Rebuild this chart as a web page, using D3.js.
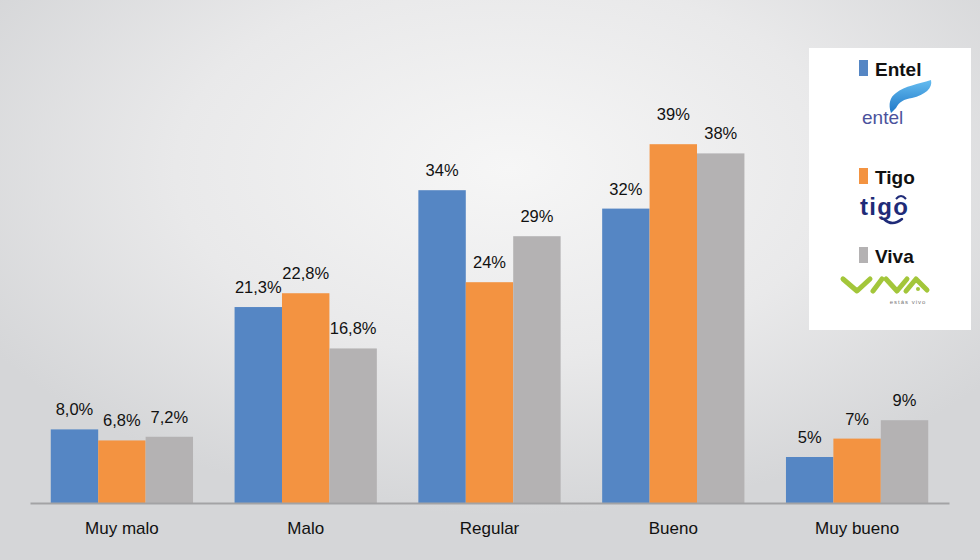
<!DOCTYPE html>
<html>
<head>
<meta charset="utf-8">
<script src="https://cdn.jsdelivr.net/npm/d3@7"></script>
<style>
  html, body { margin: 0; padding: 0; }
  body { width: 980px; height: 560px; overflow: hidden; }
  text { font-family: "Liberation Sans", Arial, sans-serif; }
</style>
</head>
<body>
<div id="canvas"></div>
<script>
"use strict"

/* chart data */
let categories = ["Muy malo", "Malo", "Regular", "Bueno", "Muy bueno"];
let series = ["Entel", "Tigo", "Viva"];
let entelValues = [8.0, 21.3, 34, 32, 5];
let tigoValues = [6.8, 22.8, 24, 39, 7];
let vivaValues = [7.2, 16.8, 29, 38, 9];
let entelLabels = ["8,0%", "21,3%", "34%", "32%", "5%"];
let tigoLabels = ["6,8%", "22,8%", "24%", "39%", "7%"];
let vivaLabels = ["7,2%", "16,8%", "29%", "38%", "9%"];
let seriesColors = ["#5586c4", "#f39341", "#b4b2b3"];

let svgWidth = 980;
let svgHeight = 560;

let svg = d3.select("#canvas")
    .append("svg")
    .attr("width", svgWidth)
    .attr("height", svgHeight);

/* soft grey background, lighter near the top middle */
let defs = svg.append("defs");
let bg = defs.append("radialGradient")
    .attr("id", "bg")
    .attr("cx", "52%").attr("cy", "30%").attr("r", "62%");
bg.append("stop").attr("offset", "0%").attr("stop-color", "#f6f6f6");
bg.append("stop").attr("offset", "55%").attr("stop-color", "#e9e9ea");
bg.append("stop").attr("offset", "100%").attr("stop-color", "#d5d6d8");

let swoosh = defs.append("linearGradient")
    .attr("id", "swoosh")
    .attr("x1", "0").attr("y1", "0").attr("x2", "0").attr("y2", "1");
swoosh.append("stop").attr("offset", "0%").attr("stop-color", "#66bdf0");
swoosh.append("stop").attr("offset", "100%").attr("stop-color", "#1f78c8");

svg.append("rect")
    .attr("width", svgWidth)
    .attr("height", svgHeight)
    .attr("fill", "url(#bg)");

/* scales */
let x0 = d3.scaleBand()
    .domain(categories)
    .range([30, 949])
    .paddingInner(0.226)
    .paddingOuter(0.113);

let x1 = d3.scaleBand()
    .domain(series)
    .range([0, x0.bandwidth()]);

let y = d3.scaleLinear()
    .domain([0, 40])
    .range([503, 135]);

let color = d3.scaleOrdinal().domain(series).range(seriesColors);

let valuesBySeries = [entelValues, tigoValues, vivaValues];
let labelsBySeries = [entelLabels, tigoLabels, vivaLabels];

let rows = [];
categories.forEach(function (c, i) {
    series.forEach(function (s, j) {
        rows.push({ cat: c, ser: s, value: valuesBySeries[j][i], label: labelsBySeries[j][i] });
    });
});

/* bars */
svg.append("g").selectAll("rect")
    .data(rows)
    .join("rect")
    .attr("x", d => x0(d.cat) + x1(d.ser))
    .attr("y", d => y(d.value))
    .attr("width", x1.bandwidth())
    .attr("height", d => y(0) - y(d.value))
    .attr("fill", d => color(d.ser));

/* value labels (the tallest one sits a bit higher in the original) */
svg.append("g").selectAll("text")
    .data(rows)
    .join("text")
    .attr("x", d => x0(d.cat) + x1(d.ser) + x1.bandwidth() / 2)
    .attr("y", d => y(d.value) - (d.value === d3.max(tigoValues) ? 24 : 14))
    .attr("text-anchor", "middle")
    .attr("font-size", "16.5px")
    .attr("fill", "#111")
    .text(d => d.label);

/* baseline + category labels */
let xAxis = svg.append("g")
    .attr("transform", "translate(0," + y(0) + ")")
    .call(d3.axisBottom(x0).tickSize(0).tickPadding(19));
xAxis.select(".domain")
    .attr("stroke", "#a3a3a5")
    .attr("stroke-width", 2);
xAxis.selectAll("text")
    .attr("font-family", "Liberation Sans, Arial, sans-serif")
    .attr("font-size", "17px")
    .attr("fill", "#111");

/* legend panel */
let legend = svg.append("g");
legend.append("rect")
    .attr("x", 809).attr("y", 48)
    .attr("width", 162).attr("height", 282)
    .attr("fill", "#ffffff");

let legendY = [60, 168, 247];
series.forEach(function (s, i) {
    legend.append("rect")
        .attr("x", 859).attr("y", legendY[i])
        .attr("width", 9).attr("height", 16)
        .attr("fill", color(s));
    legend.append("text")
        .attr("x", 875).attr("y", legendY[i] + 16)
        .attr("font-size", "19px")
        .attr("font-weight", "bold")
        .attr("fill", "#111")
        .text(s);
});

/* entel logo */
legend.append("path")
    .attr("d", "M891,113 C888,104 890,97 896,93 C905,86 918,84 931,80 C933,88 925,95 912,98 C904,99 899,102 896,108 Z")
    .attr("fill", "url(#swoosh)");
legend.append("text")
    .attr("x", 862).attr("y", 124)
    .attr("font-size", "19px")
    .attr("fill", "#4b529c")
    .text("entel");

/* tigo logo */
legend.append("text")
    .attr("x", 860).attr("y", 215)
    .attr("font-family", "Open Sans, sans-serif")
    .attr("font-size", "24px")
    .attr("font-weight", 700)
    .attr("fill", "#1f2b78")
    .attr("textLength", 48)
    .text("tigo");
legend.append("path")
    .attr("d", "M896,199 Q901,193 906,199")
    .attr("fill", "none").attr("stroke", "#1f2b78").attr("stroke-width", 2);
legend.append("path")
    .attr("d", "M884,219 Q892,227 902,219")
    .attr("fill", "none").attr("stroke", "#1f2b78").attr("stroke-width", 2.5)
    .attr("stroke-linecap", "round");

/* viva logo */
legend.append("path")
    .attr("d", "M843,279 L857,291 L870,279 M873,291 L882,279 M886,279 L897,291 L907,279 M906,291 L916,279 L927,290")
    .attr("fill", "none")
    .attr("stroke", "#a3c63a")
    .attr("stroke-width", 5)
    .attr("stroke-linecap", "round")
    .attr("stroke-linejoin", "round");
legend.append("circle")
    .attr("cx", 918).attr("cy", 289).attr("r", 2)
    .attr("fill", "#a3c63a");
legend.append("text")
    .attr("x", 908).attr("y", 304)
    .attr("text-anchor", "middle")
    .attr("font-size", "6px")
    .attr("letter-spacing", "1px")
    .attr("fill", "#777")
    .text("estás vivo");
</script>
</body>
</html>
